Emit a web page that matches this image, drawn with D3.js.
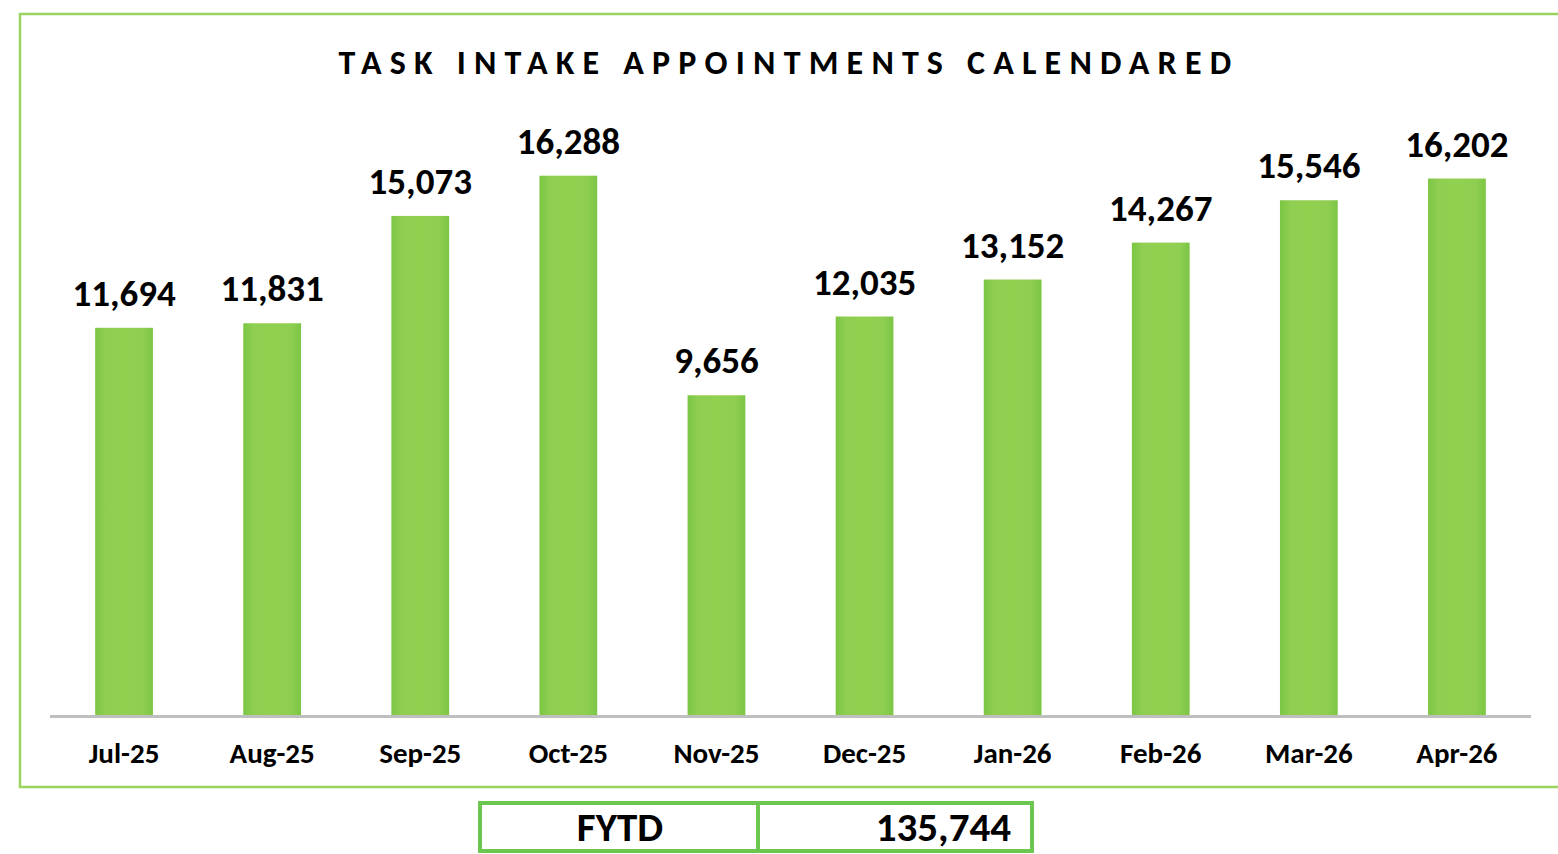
<!DOCTYPE html>
<html>
<head>
<meta charset="utf-8">
<script src="https://cdn.jsdelivr.net/npm/d3@7"></script>
<style>
    html, body { margin: 0; padding: 0; background: #fff; }
    svg { display: block; font-family: Carlito, Lato, sans-serif; font-weight: 700; }
</style>
</head>
<body>
<svg id="chart" width="1558" height="854"></svg>
<script>
// chart data
var months = ['Jul-25', 'Aug-25', 'Sep-25', 'Oct-25', 'Nov-25', 'Dec-25', 'Jan-26', 'Feb-26', 'Mar-26', 'Apr-26'];
var appointments = [11694, 11831, 15073, 16288, 9656, 12035, 13152, 14267, 15546, 16202];
var title = 'TASK INTAKE APPOINTMENTS CALENDARED';
var totalLabel = 'FYTD';

var svg = d3.select('#chart'),
    fmt = d3.format(','),
    rows = months.map(function (m, i) { return {month: m, value: appointments[i]}; });

var plot = {left: 50, right: 1531, base: 715, top: 119};

// bar shading, darker at the sides
var grad = svg.append('defs').append('linearGradient')
    .attr('id', 'barFill')
    .attr('x1', 0).attr('x2', 1).attr('y1', 0).attr('y2', 0);
grad.append('stop').attr('offset', '0%').attr('stop-color', '#7cc644');
grad.append('stop').attr('offset', '18%').attr('stop-color', '#8fce51');
grad.append('stop').attr('offset', '50%').attr('stop-color', '#92d050');
grad.append('stop').attr('offset', '82%').attr('stop-color', '#8fce51');
grad.append('stop').attr('offset', '100%').attr('stop-color', '#7cc644');

// outer chart frame (runs off the right edge)
svg.append('rect')
    .attr('x', 20).attr('y', 14)
    .attr('width', 1560).attr('height', 773)
    .attr('fill', 'none')
    .attr('stroke', '#9ad35f')
    .attr('stroke-width', 2.5);

svg.append('text')
    .attr('x', 789).attr('y', 74)
    .attr('text-anchor', 'middle')
    .style('font-size', '34px')
    .style('letter-spacing', '8.2px')
    .text(title);

var x = d3.scaleBand()
    .domain(months)
    .range([plot.left, plot.right])
    .paddingInner(0.61)
    .paddingOuter(0.305);

var y = d3.scaleLinear()
    .domain([0, 18000])
    .range([plot.base, plot.top]);

svg.append('g').selectAll('rect')
    .data(rows)
    .join('rect')
    .attr('x', function (d) { return x(d.month); })
    .attr('y', function (d) { return y(d.value); })
    .attr('width', x.bandwidth())
    .attr('height', function (d) { return plot.base - y(d.value); })
    .attr('fill', 'url(#barFill)');

svg.append('g').selectAll('text')
    .data(rows)
    .join('text')
    .attr('x', function (d) { return x(d.month) + x.bandwidth() / 2; })
    .attr('y', function (d) { return y(d.value) - 22; })
    .attr('text-anchor', 'middle')
    .style('font-size', '37px')
    .text(function (d) { return fmt(d.value); });

// category axis, no ticks
var axis = svg.append('g')
    .attr('transform', 'translate(0,' + plot.base + ')')
    .call(d3.axisBottom(x).tickSize(0).tickPadding(27));
axis.select('.domain')
    .attr('stroke', '#bfbfbf')
    .attr('stroke-width', 3)
    .attr('d', 'M' + plot.left + ',1.5H' + plot.right);
axis.selectAll('text')
    .attr('fill', '#000')
    .style('font-family', 'Carlito, Lato, sans-serif')
    .style('font-weight', 700)
    .style('font-size', '29px');

// FYTD total box
var box = svg.append('g');
box.append('rect')
    .attr('x', 480).attr('y', 803)
    .attr('width', 552).attr('height', 48)
    .attr('fill', 'none')
    .attr('stroke', '#6cc64f')
    .attr('stroke-width', 4);
box.append('line')
    .attr('x1', 758).attr('x2', 758)
    .attr('y1', 803).attr('y2', 851)
    .attr('stroke', '#6cc64f')
    .attr('stroke-width', 4);
box.append('text')
    .attr('x', 620).attr('y', 841)
    .attr('text-anchor', 'middle')
    .style('font-size', '41px')
    .text(totalLabel);
box.append('text')
    .attr('x', 1011).attr('y', 841)
    .attr('text-anchor', 'end')
    .style('font-size', '41px')
    .text(fmt(d3.sum(appointments)));
</script>
</body>
</html>
